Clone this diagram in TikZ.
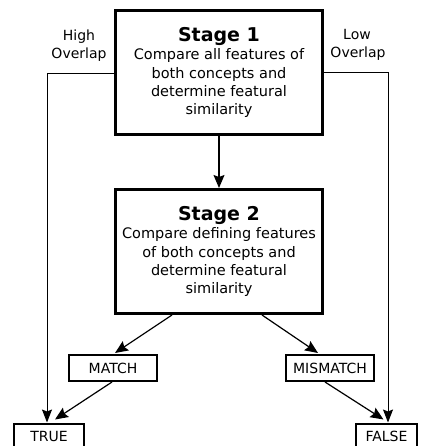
\documentclass[tikz,border=0pt]{standalone}
\usepackage{fontspec}
\setmainfont{DejaVu Sans}
\usetikzlibrary{arrows.meta,calc}
\tikzset{
  bigbox/.style={draw, line width=3pt, minimum width=207pt, minimum height=124pt, inner sep=0pt, align=center,
    font=\fontsize{14.5}{18.3}\selectfont},
  smallbox/.style={draw, line width=2pt, minimum height=26pt, inner sep=0pt,
    font=\fontsize{14}{16}\selectfont},
  lbl/.style={inner sep=0pt, anchor=base, font=\fontsize{14}{16}\selectfont},
  arr/.style={line width=1.2pt, -{Stealth[length=13pt,width=11pt,inset=2pt]}},
  thin arr/.style={line width=0.9pt, -{Stealth[length=13pt,width=10pt,inset=2pt]}},
  ttl/.style={}
}
\newcommand{\stitle}[1]{{\fontsize{19}{19}\selectfont\bfseries #1}}
\begin{document}
\begin{tikzpicture}[x=1pt,y=-1pt]
\useasboundingbox (0,0) rectangle (420,446);
\clip (0,0) rectangle (420,446);
\node[bigbox] (s1) at (219,72.5) {\stitle{Stage 1}\\Compare all features of\\both concepts and\\determine featural\\similarity};
\node[bigbox] (s2) at (219,251.5) {\stitle{Stage 2}\\Compare defining features\\of both concepts and\\determine featural\\similarity};
\node[smallbox, minimum width=88pt] (match) at (113,368) {MATCH};
\node[smallbox, minimum width=88pt] (mismatch) at (330,368) {MISMATCH};
\node[smallbox, minimum width=70pt] (true) at (49,436.5) {TRUE};
\node[smallbox, minimum width=61pt] (false) at (386.5,436.5) {FALSE};
\node[lbl] (hi1) at (79,41) {High};
\node[lbl] (hi2) at (79,59) {Overlap};
\node[lbl] (lo1) at (357,40) {Low};
\node[lbl] (lo2) at (358,58) {Overlap};
\coordinate (lc) at (47,73);
\coordinate (rc) at (388,72);
\draw[thin arr] (s1.west |- lc) -- (lc) -- (lc |- true.north);
\draw[thin arr] (s1.east |- rc) -- (rc) -- (rc |- false.north);
\draw[arr] (s1.south) -- (s2.north);
\draw[arr] ($(s2.south)+(-47,0)$) -- ($(match.north)+(2,-1)$);
\draw[arr] ($(s2.south)+(43,0)$) -- ($(mismatch.north)+(-12,-1)$);
\draw[arr] ($(match.south)+(-1,0)$) -- ($(true.north)+(6,-3)$);
\draw[arr] ($(mismatch.south)+(-5,0)$) -- ($(false.north)+(-3,-3)$);
\end{tikzpicture}
\end{document}
